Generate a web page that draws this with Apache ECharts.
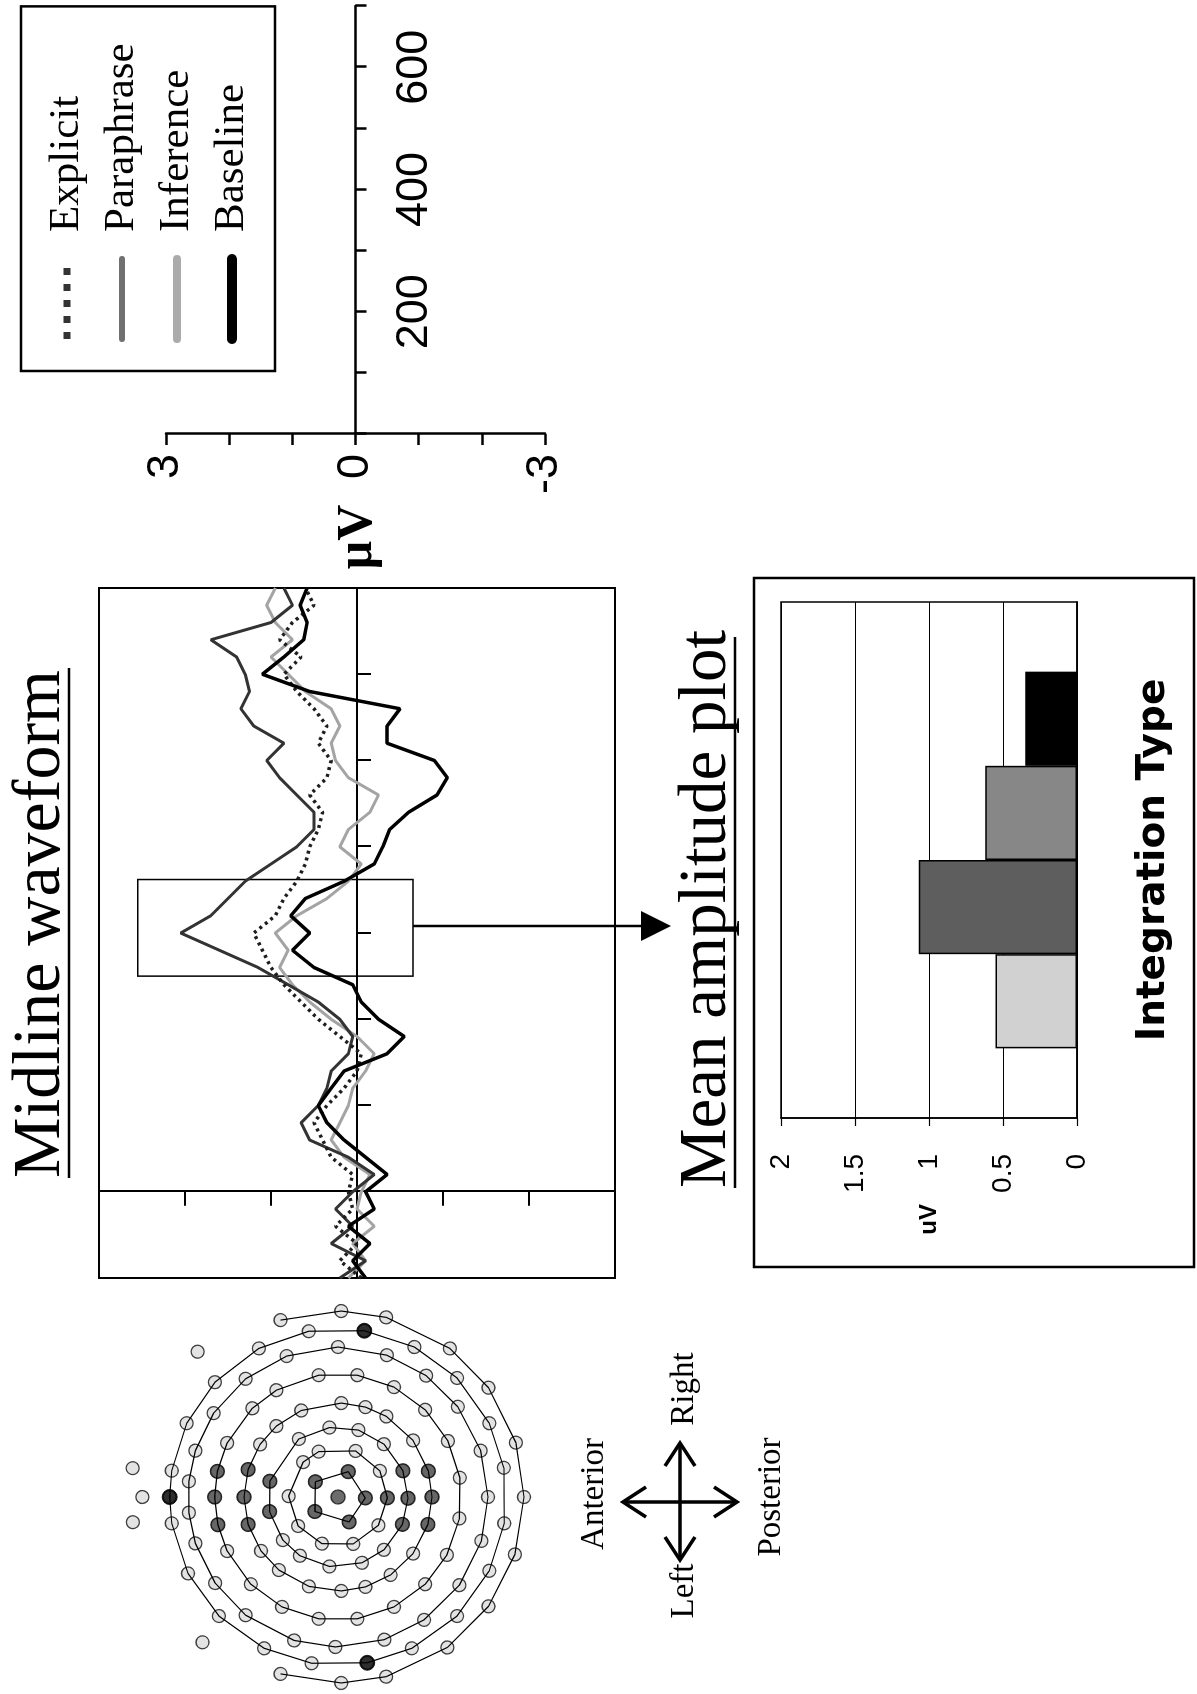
<!DOCTYPE html>
<html>
<head>
<meta charset="utf-8">
<title>Midline waveform / Mean amplitude plot</title>
<script src="https://cdn.jsdelivr.net/npm/echarts@6.0.0/dist/echarts.min.js"></script>
<style>
  html, body { margin: 0; padding: 0; background: #fff; overflow: hidden; }
  #page { position: relative; width: 1197px; height: 1694px; overflow: hidden; }
  /* the figure is laid out landscape and turned a quarter left, like the printed page */
  #chart { position: absolute; left: 0; top: 0; width: 1694px; height: 1197px;
           transform-origin: 0 0; transform: translate(0, 1694px) rotate(-90deg); }
</style>
</head>
<body>
<div id="page"><div id="chart"></div></div>
<script>
// ---- waveform (ms, µV) ----
const timeMs = [-100, -80, -60, -40, -20, 0, 20, 40, 60, 80, 100, 120, 140, 160, 180, 200,
  220, 240, 260, 280, 300, 320, 340, 360, 380, 400, 420, 440, 460, 480, 500,
  520, 540, 560, 580, 600, 620, 640, 660, 680, 700];

const explicitUv = [-0.05, 0.2, 0.0, 0.25, 0.05, 0.1, 0.05, 0.3, 0.4, 0.5, 0.35, 0.15, 0.0, -0.05, 0.2, 0.45,
  0.65, 0.85, 1.0, 1.1, 1.2, 0.95, 0.85, 0.7, 0.6, 0.55, 0.45, 0.4, 0.55, 0.35, 0.3,
  0.45, 0.35, 0.5, 0.7, 0.85, 0.65, 0.9, 0.75, 0.5, 0.6];
const paraphraseUv = [0.2, -0.1, 0.3, 0.05, 0.25, 0.05, -0.2, 0.1, 0.55, 0.65, 0.45, 0.35, 0.3, 0.1, 0.05, 0.2,
  0.45, 0.8, 1.15, 1.6, 2.05, 1.7, 1.5, 1.3, 1.0, 0.7, 0.5, 0.5, 0.7, 0.9, 1.05,
  0.85, 1.2, 1.35, 1.25, 1.3, 1.4, 1.7, 1.0, 0.75, 0.85];
const inferenceUv = [0.1, -0.1, 0.05, -0.2, 0.0, -0.05, -0.15, 0.15, 0.3, 0.2, 0.1, 0.05, -0.1, -0.2, 0.0, 0.3,
  0.55, 0.75, 0.9, 0.8, 0.95, 0.7, 0.35, 0.1, -0.05, 0.2, 0.1, -0.15, -0.25, 0.1, 0.25,
  0.3, 0.2, 0.3, 0.6, 0.8, 1.0, 0.75, 0.95, 1.05, 0.95];
const baselineUv = [-0.1, 0.05, -0.15, 0.1, -0.2, -0.1, -0.35, -0.1, 0.15, 0.35, 0.45, 0.3, 0.15, -0.35, -0.55, -0.25,
  -0.05, 0.05, 0.5, 0.75, 0.55, 0.77, 0.6, 0.15, -0.2, -0.3, -0.38, -0.6, -0.93, -1.05, -0.9,
  -0.35, -0.35, -0.5, 0.55, 1.1, 0.85, 0.62, 0.58, 0.66, 0.58];

// boxed analysis window
const windowMs = [250, 362];
const windowUv = [2.55, -0.65];

// scale bar tick labels
const scaleTimeLabels = [200, 400, 600];
const scaleUvLabels = [3, 0, -3];

// ---- mean amplitude bars (µV) ----
const barCategory = ['Midline'];
const barNames = ['Inference', 'Explicit', 'Paraphrase', 'Baseline'];
const barMeans = [0.55, 1.07, 0.62, 0.35];

// ---- sensor net, polar [radius, angle]; angle 0 = anterior, 90 = right ----
const ringRadius = [82, 148, 210, 282, 370, 450, 505, 558];
const ringAngles = [
  [34, 112, 182, 246, 328],
  [1, 45, 67, 111, 148, 181, 215, 252, 289, 324],
  [13, 56, 83, 107, 131, 158, 181, 203, 229, 250, 277, 303, 322, 348],
  [0, 17, 34, 49, 67, 92, 107, 121, 143, 164, 180, 197, 217, 236, 253, 268, 288, 309, 325, 343],
  [0, 12, 26, 46, 60, 81, 99, 117, 135, 153, 171, 190, 208, 225, 243, 261, 279, 297, 315, 334, 347],
  [6, 18, 34, 52, 70, 90, 109, 126, 143, 162, 180, 197, 216, 235, 252, 271, 287, 308, 325, 342, 354],
  [0, 9, 26, 43, 62, 80, 99, 117, 135, 154, 170, 189, 206, 225, 244, 260, 279, 296, 315, 333, 351],
  [72, 91, 105, 127, 144, 163, 180, 198, 216, 234, 255, 269, 288]
];
const ringClosed = [true, true, true, true, true, true, true, false];
const faceSensors = [[606, 46], [622, 8], [587, 0], [620, 353], [596, 313]];
const midlineSensors = [[0, 0],
  [82, 34], [82, 112], [82, 182], [82, 246], [82, 328],
  [148, 181],
  [210, 13], [210, 158], [210, 181], [210, 203], [210, 348],
  [282, 0], [282, 17], [282, 164], [282, 180], [282, 197], [282, 343],
  [370, 0], [370, 12], [370, 347]];
const referenceSensors = [[505, 0], [505, 99], [505, 260]];

const SERIF = "'Liberation Serif', 'Times New Roman', serif";
const SANS = "'Liberation Sans', Arial, sans-serif";

const chart = echarts.init(document.getElementById('chart'));

const zip = (xs, ys) => xs.map((x, i) => [x, ys[i]]);

// waveform lines
const waveStyles = {
  Inference:  { color: '#a4a4a4', width: 3, type: 'solid' },
  Paraphrase: { color: '#333333', width: 3, type: 'solid' },
  Explicit:   { color: '#1e1e1e', width: 3.5, type: [3, 4] },
  Baseline:   { color: '#000000', width: 3.5, type: 'solid' }
};
const waveData = { Explicit: explicitUv, Paraphrase: paraphraseUv, Inference: inferenceUv, Baseline: baselineUv };

const series = [];
['Inference', 'Paraphrase', 'Explicit', 'Baseline'].forEach(name => {
  series.push({
    name: name, type: 'line', xAxisIndex: 0, yAxisIndex: 0,
    data: zip(timeMs, waveData[name]),
    symbol: 'none', smooth: false, silent: true,
    lineStyle: waveStyles[name],
    markArea: name === 'Baseline' ? {
      silent: true,
      itemStyle: { color: 'rgba(0,0,0,0)', borderColor: '#000', borderWidth: 1.5 },
      data: [[{ xAxis: windowMs[0], yAxis: windowUv[0] }, { xAxis: windowMs[1], yAxis: windowUv[1] }]]
    } : undefined
  });
});

// mean amplitude bars
const barFill = { Inference: '#d1d1d1', Explicit: '#5e5e5e', Paraphrase: '#878787', Baseline: '#000000' };
barNames.forEach((name, i) => {
  series.push({
    name: name + ' mean', type: 'bar', xAxisIndex: 2, yAxisIndex: 2,
    data: [barMeans[i]], barGap: '0%', barCategoryGap: '27%', silent: true,
    itemStyle: { color: barFill[name], borderColor: '#000', borderWidth: 1.5 }
  });
});

// sensor net
ringAngles.forEach((angles, i) => {
  const pts = angles.map(a => [ringRadius[i], a]);
  if (ringClosed[i]) pts.push(pts[0]);
  series.push({
    type: 'line', coordinateSystem: 'polar', data: pts, symbol: 'none', silent: true,
    lineStyle: { color: '#000', width: 1.2 }
  });
});
const allRingSensors = [];
ringAngles.forEach((angles, i) => angles.forEach(a => allRingSensors.push([ringRadius[i], a])));
series.push({
  type: 'scatter', coordinateSystem: 'polar', data: allRingSensors.concat(faceSensors),
  symbolSize: 13, silent: true,
  itemStyle: { color: '#dcdcdc', borderColor: '#111', borderWidth: 1.3 }
});
series.push({
  type: 'scatter', coordinateSystem: 'polar', data: midlineSensors, symbolSize: 14, silent: true,
  itemStyle: { color: '#474747', borderColor: '#111', borderWidth: 1.3 }
});
series.push({
  type: 'scatter', coordinateSystem: 'polar', data: referenceSensors, symbolSize: 15, silent: true,
  itemStyle: { color: '#000', borderColor: '#000', borderWidth: 1 }
});

const legendLine = {
  Explicit:   { color: '#333', width: 7, type: [7, 9], cap: 'butt' },
  Paraphrase: { color: '#707070', width: 6, type: 'solid', cap: 'round' },
  Inference:  { color: '#ababab', width: 8, type: 'solid', cap: 'round' },
  Baseline:   { color: '#000', width: 10, type: 'solid', cap: 'round' }
};

const scaleLabel = { fontFamily: SANS, fontSize: 45, color: '#000' };

const option = {
  animation: false,
  backgroundColor: '#fff',
  legend: {
    orient: 'vertical', left: 1323, top: 21,
    padding: [21, 37, 18, 27],
    borderColor: '#000', borderWidth: 2.5,
    itemWidth: 80, itemHeight: 14, itemGap: 5,
    selectedMode: false,
    textStyle: { fontFamily: SERIF, fontSize: 43, color: '#000', lineHeight: 50, padding: [0, 0, 0, 22] },
    data: ['Explicit', 'Paraphrase', 'Inference', 'Baseline'].map(n => ({
      name: n, lineStyle: legendLine[n], itemStyle: { opacity: 0 }
    }))
  },
  grid: [
    { left: 416, top: 99, width: 690, height: 516, show: true, borderColor: '#000', borderWidth: 2 },
    { left: 1260, top: 166, width: 428, height: 379, show: false },
    { left: 576, top: 781, width: 516, height: 296, show: true, borderColor: '#000', borderWidth: 1.5 },
    // upper half of the scale bar, only used to place the time labels under its zero line
    { left: 1260, top: 166, width: 428, height: 190, show: false }
  ],
  xAxis: [
    { gridIndex: 0, type: 'value', min: -100, max: 700, interval: 100,
      axisLine: { onZero: true, lineStyle: { color: '#000', width: 2 } },
      axisTick: { length: 14, lineStyle: { color: '#000', width: 2 } },
      axisLabel: { show: false }, splitLine: { show: false } },
    { gridIndex: 1, type: 'value', min: 0, max: 700, interval: 100,
      axisLine: { onZero: true, lineStyle: { color: '#000', width: 2.5 } },
      axisTick: { length: 11, lineStyle: { color: '#000', width: 2.5 } },
      axisLabel: { show: false }, splitLine: { show: false } },
    { gridIndex: 2, type: 'category', data: barCategory,
      name: 'Integration Type', nameLocation: 'middle', nameGap: 57,
      nameTextStyle: { fontFamily: "'DejaVu Sans', sans-serif", fontWeight: 'bold', fontSize: 39, color: '#000' },
      axisLine: { lineStyle: { color: '#000', width: 1.5 } },
      axisTick: { show: false }, axisLabel: { show: false } },
    { gridIndex: 3, type: 'value', min: 0, max: 700, interval: 100,
      axisLine: { show: false }, axisTick: { show: false }, splitLine: { show: false },
      axisLabel: Object.assign({ margin: 36, formatter: v => scaleTimeLabels.includes(v) ? String(v) : '' }, scaleLabel) }
  ],
  yAxis: [
    { gridIndex: 0, type: 'value', min: -3, max: 3, interval: 1,
      axisLine: { onZero: true, lineStyle: { color: '#000', width: 2 } },
      axisTick: { length: 14, lineStyle: { color: '#000', width: 2 } },
      axisLabel: { show: false }, splitLine: { show: false } },
    { gridIndex: 1, type: 'value', min: -3, max: 3, interval: 1,
      axisLine: { onZero: true, lineStyle: { color: '#000', width: 2.5 } },
      axisTick: { length: 11, lineStyle: { color: '#000', width: 2.5 } },
      axisLabel: Object.assign({ margin: 20, formatter: v => scaleUvLabels.includes(v) ? String(v) : '' }, scaleLabel),
      splitLine: { show: false } },
    { gridIndex: 2, type: 'value', min: 0, max: 2, interval: 0.5,
      name: 'uV', nameLocation: 'middle', nameRotate: 0, nameGap: 86,
      nameTextStyle: { fontFamily: SANS, fontWeight: 'bold', fontSize: 24, color: '#000' },
      axisLine: { show: true, lineStyle: { color: '#000', width: 1.5 } },
      axisTick: { show: true, length: 8, lineStyle: { color: '#000', width: 1.2 } },
      axisLabel: { margin: 36, fontFamily: SANS, fontSize: 28, color: '#000' },
      splitLine: { show: true, lineStyle: { color: '#000', width: 1.2 } } },
    { gridIndex: 3, type: 'value', min: 0, max: 3, show: false }
  ],
  polar: { center: [197, 338], radius: 220 },
  radiusAxis: { min: 0, max: 660, show: false },
  angleAxis: { type: 'value', min: 0, max: 360, startAngle: 90, clockwise: true, show: false },
  graphic: [
    { type: 'text', x: 516, y: 41, silent: true,
      style: { text: 'Midline waveform', fontFamily: SERIF, fontSize: 68, fill: '#000', verticalAlign: 'middle' } },
    { type: 'line', silent: true, shape: { x1: 516, y1: 69, x2: 1026, y2: 69 }, style: { stroke: '#000', lineWidth: 2.5 } },
    { type: 'text', x: 506, y: 707, silent: true,
      style: { text: 'Mean amplitude plot', fontFamily: SERIF, fontSize: 67, fill: '#000', verticalAlign: 'middle' } },
    { type: 'line', silent: true, shape: { x1: 506, y1: 735, x2: 1057, y2: 735 }, style: { stroke: '#000', lineWidth: 2.5 } },
    { type: 'text', x: 1157, y: 358, silent: true,
      style: { text: 'µV', fontFamily: SERIF, fontWeight: 'bold', fontSize: 50, fill: '#000', align: 'center', verticalAlign: 'middle' } },
    // arrow from the boxed window down to the bar plot
    { type: 'line', silent: true, shape: { x1: 768, y1: 413, x2: 768, y2: 645 }, style: { stroke: '#000', lineWidth: 2.5 } },
    { type: 'polygon', silent: true, shape: { points: [[768, 671], [753, 641], [783, 641]] }, style: { fill: '#000' } },
    // frame round the bar chart
    { type: 'rect', silent: true, shape: { x: 427, y: 754, width: 689, height: 440 },
      style: { fill: 'none', stroke: '#000', lineWidth: 2.5 } },
    // orientation cross
    { type: 'line', silent: true, shape: { x1: 134, y1: 680, x2: 251, y2: 680 }, style: { stroke: '#000', lineWidth: 3.5 } },
    { type: 'line', silent: true, shape: { x1: 192, y1: 623, x2: 192, y2: 737 }, style: { stroke: '#000', lineWidth: 3.5 } },
    { type: 'polyline', silent: true, shape: { points: [[228, 665], [251, 680], [228, 695]] }, style: { stroke: '#000', lineWidth: 3.5, fill: 'none' } },
    { type: 'polyline', silent: true, shape: { points: [[157, 665], [134, 680], [157, 695]] }, style: { stroke: '#000', lineWidth: 3.5, fill: 'none' } },
    { type: 'polyline', silent: true, shape: { points: [[177, 646], [192, 623], [207, 646]] }, style: { stroke: '#000', lineWidth: 3.5, fill: 'none' } },
    { type: 'polyline', silent: true, shape: { points: [[177, 714], [192, 737], [207, 714]] }, style: { stroke: '#000', lineWidth: 3.5, fill: 'none' } },
    { type: 'text', x: 200, y: 594, silent: true,
      style: { text: 'Anterior', fontFamily: SERIF, fontSize: 33, fill: '#000', align: 'center', verticalAlign: 'middle' } },
    { type: 'text', x: 197, y: 771, silent: true,
      style: { text: 'Posterior', fontFamily: SERIF, fontSize: 33, fill: '#000', align: 'center', verticalAlign: 'middle' } },
    { type: 'text', x: 305, y: 684, silent: true,
      style: { text: 'Right', fontFamily: SERIF, fontSize: 33, fill: '#000', align: 'center', verticalAlign: 'middle' } },
    { type: 'text', x: 103, y: 684, silent: true,
      style: { text: 'Left', fontFamily: SERIF, fontSize: 33, fill: '#000', align: 'center', verticalAlign: 'middle' } }
  ],
  series: series
};

chart.setOption(option);
</script>
</body>
</html>
